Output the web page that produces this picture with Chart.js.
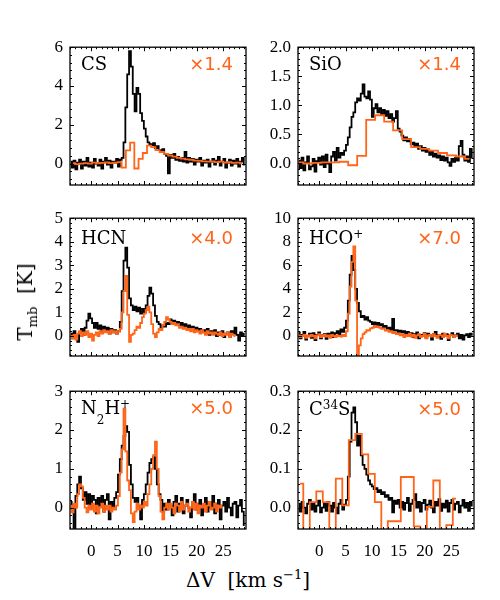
<!DOCTYPE html>
<html>
<head>
<meta charset="utf-8">
<script src="https://cdn.jsdelivr.net/npm/chart.js@4.4.0/dist/chart.umd.min.js"></script>
<style>
  body { margin: 0; background: #fff; }
  #wrap { position: relative; width: 500px; height: 600px; overflow: hidden; background: #fff; }
  #wrap canvas { position: absolute; }
  .title { position: absolute; font-family: "DejaVu Serif", serif; font-size: 20px; color: #000; white-space: nowrap; line-height: 1; }
  .title sup, .title sub { font-size: 13px; }
  #xtitle { left: 248px; top: 579px; transform: translate(-50%, -50%); }
  #ytitle { left: 27px; top: 302px; transform: translate(-50%, -50%) rotate(-90deg); }
</style>
</head>
<body>
<div id="wrap">
  <canvas id="p0" width="239" height="190" style="left:15px;top:30px"></canvas>
  <canvas id="p1" width="239" height="190" style="left:243px;top:30px"></canvas>
  <canvas id="p2" width="239" height="190" style="left:15px;top:201px"></canvas>
  <canvas id="p3" width="239" height="190" style="left:243px;top:201px"></canvas>
  <canvas id="p4" width="239" height="190" style="left:15px;top:374px"></canvas>
  <canvas id="p5" width="239" height="190" style="left:243px;top:374px"></canvas>
  <div class="title" id="xtitle">ΔV&nbsp;&nbsp;[km&nbsp;s<sup>−1</sup>]</div>
  <div class="title" id="ytitle">T<sub>mb</sub>&nbsp;&nbsp;[K]</div>
</div>
<script>
const BLACK = '#000000';
const ORANGE = '#ff6418';

// fine spectra: first channel velocity and channel width (km/s)
const V0 = -3.85, DV = 0.35;

// CS
const csBlack = [0.1,-0.2,0.15,-0.3,0.05,0.2,-0.25,0.1,-0.1,0.3,-0.15,0.05,-0.2,0.25,0.0,-0.1,0.2,-0.25,0.1,0.3,-0.05,0.15,-0.2,0.1,0.05,0.25,-0.15,0.2,
  0.3,1.1,2.9,4.6,5.8,5.0,3.6,2.7,3.9,3.6,2.6,2.2,1.8,1.4,1.1,1.0,0.95,1.05,0.8,0.9,0.7,0.6,0.75,
  0.5,0.4,-0.5,0.45,0.3,0.5,0.2,0.35,0.15,0.3,0.1,0.6,0.05,0.3,0.1,0.25,-0.05,0.2,0.1,0.3,-0.1,0.15,0.05,0.2,-0.15,0.1,0.25,-0.05,0.15,0.35,-0.1,0.1,0.25,-0.2,0.05,0.2,-0.1,0.15,0.0,0.25,-0.15,0.1,0.3,-0.05];
const csOrange = [0.02,-0.02,0.0,0.03,0.0,0.05,0.02,0.04,0.06,0.03,0.05,0.08,-0.2,0.68,1.08,-0.25,0.25,0.55,0.93,0.85,
  0.7,0.6,0.5,0.42,0.36,0.3,0.26,0.22,0.2,0.16,0.14,0.12,0.1,0.12,0.08,0.1,0.06,0.08,0.04,0.05,0.02];
const csOrangeV0 = -3.43, csOrangeDV = 0.8;

// SiO
const sioBlack = [0.05,-0.08,0.1,-0.12,0.02,0.12,-0.1,-0.05,0.08,-0.14,0.04,0.1,
  -0.02,0.12,-0.06,0.15,0.0,-0.15,0.12,0.2,0.05,0.27,0.1,0.18,0.15,0.22,0.32,0.45,0.62,0.8,0.88,
  1.05,1.12,1.08,1.2,1.36,1.15,1.12,1.24,1.1,0.8,0.95,1.02,0.88,0.95,0.85,0.92,0.82,0.9,0.78,0.85,
  0.72,0.78,0.9,0.6,0.55,0.48,0.4,0.45,0.38,0.42,0.33,0.36,0.3,0.34,0.25,0.3,0.22,0.27,0.2,0.24,
  0.15,0.2,0.12,0.17,0.1,0.14,0.06,0.12,0.05,0.1,0.02,-0.04,0.08,0.03,0.1,0.05,0.3,0.39,0.15,0.05,0.12,0.03,0.25,0.1];
const sioOrange = [0.02,0.0,0.01,0.02,0.02,0.03,-0.03,0.13,0.75,0.83,0.72,0.57,0.42,0.28,0.25,0.22,0.18,0.14,0.12,0.08];
const sioOrangeV0 = -3.85, sioOrangeDV = 1.7;

// HCN
const hcnBlack = [0.1,-0.1,0.2,0.0,-0.25,0.15,0.3,0.05,0.35,0.65,
  0.95,0.75,0.55,0.35,0.55,0.3,0.45,0.2,0.4,0.25,
  0.35,0.1,0.3,0.15,0.25,0.1,0.2,0.6,1.9,3.2,
  3.75,2.9,1.6,1.3,1.1,1.25,1.05,1.2,0.95,1.15,
  1.0,1.3,1.7,2.05,1.8,1.3,0.85,0.6,0.5,0.35,
  0.45,0.4,0.55,0.5,0.7,0.6,0.65,0.55,0.6,0.45,
  0.55,0.4,0.5,0.35,0.45,0.3,0.4,0.25,0.35,0.2,
  0.3,0.15,0.25,0.1,0.3,0.05,0.2,0.1,0.25,0.0,
  0.15,0.05,0.2,-0.05,0.1,0.15,-0.05,0.2,0.1,0.35,
  0.05,-0.2,0.15,0.0,0.1];
const hcnOrange = [0.0,-0.1,0.05,-0.15,0.1,0.2,0.0,0.15,0.05,0.2,
  -0.05,0.1,-0.2,0.05,0.15,0.0,0.2,0.1,0.25,0.15,
  0.2,0.1,0.25,0.15,0.2,0.1,0.2,0.3,1.0,1.9,
  2.55,0.9,-0.25,0.05,0.1,0.25,0.4,0.35,0.55,0.8,
  0.95,1.1,1.25,1.0,0.5,0.1,-0.05,0.15,0.3,0.25,
  0.45,0.6,0.8,0.7,0.6,0.5,0.55,0.45,0.5,0.35,
  0.4,0.3,0.35,0.25,0.3,0.2,0.3,0.15,0.25,0.2,
  0.1,0.25,0.15,0.05,0.2,0.1,0.15,0.05,0.15,0.1,
  0.05,0.15,0.0,0.1,0.05,0.15,-0.05,0.1,0.05,0.0];

// HCO+
const hcopBlack = [0.3,-0.2,0.1,0.35,-0.3,0.0,0.2,-0.15,0.25,-0.35,0.1,0.3,-0.2,0.05,0.15,-0.25,0.2,0.0,0.3,-0.1,0.25,0.4,0.1,0.55,0.35,
  0.7,1.3,3.0,5.2,6.8,5.6,4.0,2.8,2.1,1.6,1.7,1.4,1.6,1.3,1.2,1.0,1.15,0.95,1.1,0.9,1.0,0.75,0.85,0.6,0.7,0.5,1.45,0.45,0.5,0.35,0.45,0.3,0.4,0.2,0.35,0.1,
  0.25,-0.1,0.15,0.3,-0.2,0.1,0.0,0.25,-0.15,0.2,0.05,-0.3,0.15,0.35,-0.05,0.1,-0.25,0.2,0.0,0.15,-0.35,0.1,0.25,-0.1,0.05,0.2,-0.2,0.1,-0.3,0.05,0.15,-0.1,0.2,0.1];
const hcopOrange = [0.05,-0.1,0.0,0.1,-0.15,0.05,-0.05,0.1,0.0,-0.2,0.05,0.15,-0.1,0.0,0.1,-0.05,0.05,-0.15,0.1,0.0,-0.1,0.05,0.0,-0.05,0.1,
  0.0,0.4,1.9,4.2,6.3,7.6,3.0,-1.9,-0.8,-0.2,0.15,0.3,0.5,0.45,0.65,0.7,0.85,0.75,0.8,0.7,0.6,0.65,0.45,0.5,0.35,0.4,0.25,0.3,0.15,0.2,
  0.05,0.15,-0.1,0.1,0.0,0.2,-0.05,0.1,-0.15,0.05,0.15,-0.1,0.0,0.2,-0.2,0.05,0.1,-0.05,0.15,0.0,-0.15,0.1,0.05,-0.1,0.2,0.0,-0.2,0.1,0.05,-0.1,0.0,0.05];

// N2H+
const n2hpBlack = [0.15,0.05,-0.7,0.3,0.6,0.8,0.5,0.2,0.4,0.1,
  0.35,0.0,0.3,0.2,-0.15,0.25,0.05,0.3,-0.1,0.2,
  0.35,-0.3,0.15,0.0,0.25,0.4,0.85,1.25,1.6,1.85,
  2.1,1.95,1.1,0.6,0.25,0.15,0.25,0.05,-0.3,0.2,
  0.35,0.6,0.9,1.15,1.25,1.3,1.0,0.6,0.35,0.2,
  -0.1,0.1,-0.05,
  0.2,0.05,-0.2,0.15,0.3,-0.1,0.1,0.25,-0.15,0.05,0.2,0.0,-0.25,0.15,0.35,-0.05,0.1,0.2,-0.2,0.05,0.25,-0.1,0.15,0.0,0.3,-0.15,0.1,0.2,-0.3,0.05,0.15,-0.1,0.25,0.0,-0.2,0.1,0.15,-0.25,0.05,0.2,-0.1,-0.45];
const n2hpOrange = [0.05,-0.12,0.1,0.0,0.35,0.6,0.55,0.25,0.0,-0.12,
  0.05,-0.05,0.1,-0.1,0.05,-0.15,0.0,0.1,-0.1,0.05,
  -0.05,0.05,-0.1,0.0,-0.05,0.05,0.3,0.9,1.5,2.55,
  1.45,0.7,0.45,-0.15,-0.37,-0.1,0.1,-0.05,0.05,0.0,
  0.15,0.05,0.35,0.6,1.0,1.35,1.7,1.0,0.3,-0.1,
  -0.3,0.0,0.1,
  -0.05,0.1,0.0,-0.15,0.1,0.05,-0.1,0.15,-0.05,0.05,0.1,-0.1,0.0,0.15,-0.05,0.1,-0.15,0.05,0.0,0.1,-0.1,0.05,0.15,-0.05,0.0,0.1,-0.1,0.05,0.0,0.05];

// C34S
const c34sBlack = [0.01,-0.01,0.015,0.0,-0.015,0.01,0.02,-0.005,0.012,-0.01,0.005,0.018,-0.012,0.0,0.01,-0.008,0.015,0.005,-0.01,0.012,0.0,-0.015,0.01,0.02,-0.005,
  0.008,0.02,0.08,0.17,0.245,0.258,0.22,0.16,0.185,0.135,0.11,0.1,0.085,0.07,0.06,0.055,0.048,0.05,0.04,0.045,0.035,0.04,0.028,0.032,0.02,0.025,-0.012,0.018,
  0.01,0.02,0.0,0.015,-0.005,0.012,0.025,-0.008,0.01,0.02,0.035,0.0,0.015,-0.01,0.012,0.02,-0.005,0.008,0.018,0.0,-0.012,0.015,0.005,0.022,-0.008,0.01,0.0,0.018,-0.01,0.012,0.02,-0.005,0.01,0.015,-0.012,0.005,0.02,0.0,0.012,-0.008,0.015,0.005];
const c34sOrange = [0.062,-0.08,0.014,0.042,0.014,-0.08,0.075,0.006,0.174,0.19,0.137,0.087,0.014,-0.08,-0.035,-0.035,0.079,0.079,-0.048,-0.08,0.002,0.07,-0.08,-0.045,0.023];
const c34sOrangeV0 = -3.615, c34sOrangeDV = 1.23;

// x axis
const X_MIN = -4, X_MAX = 29.3, X_STEP = 5;

function spectrum(values, v0, dv) {
  return values.map((t, i) => ({ x: v0 + i * dv, y: t }));
}

// box, inward ticks on all four sides, molecule name and scale factor
const panelBox = {
  id: 'panelBox',
  afterDraw(chart, args, o) {
    const { ctx, chartArea: a, scales: { x, y } } = chart;
    ctx.save();
    ctx.strokeStyle = '#000';
    ctx.lineWidth = 1.3;
    ctx.strokeRect(a.left, a.top, a.width, a.height);

    ctx.lineWidth = 1;
    ctx.beginPath();
    const xt = (step, len) => {
      for (let k = Math.ceil(X_MIN / step); k * step <= X_MAX; k++) {
        const px = Math.round(x.getPixelForValue(k * step)) + 0.5;
        ctx.moveTo(px, a.bottom); ctx.lineTo(px, a.bottom - len);
        ctx.moveTo(px, a.top); ctx.lineTo(px, a.top + len);
      }
    };
    const yt = (step, len) => {
      for (let k = Math.ceil(o.yMin / step - 1e-6); k * step <= o.yMax + 1e-9; k++) {
        const py = Math.round(y.getPixelForValue(k * step)) + 0.5;
        ctx.moveTo(a.left, py); ctx.lineTo(a.left + len, py);
        ctx.moveTo(a.right, py); ctx.lineTo(a.right - len, py);
      }
    };
    xt(X_STEP, 4); xt(X_STEP / 5, 2);
    yt(o.yStep, 4); yt(o.yStep / 5, 2);
    ctx.stroke();

    // name with sub/superscripts
    ctx.fillStyle = '#000';
    ctx.textBaseline = 'alphabetic';
    ctx.textAlign = 'left';
    let cx = a.left + 11;
    const base = a.top + o.nameY;
    for (const [t, k] of o.name) {
      ctx.font = k === 0 ? '18px "DejaVu Serif"' : '12px "DejaVu Serif"';
      const dy = k === 0 ? 0 : (k > 0 ? -6 : 10);
      ctx.fillText(t, cx, base + dy);
      cx += ctx.measureText(t).width;
    }

    ctx.fillStyle = ORANGE;
    ctx.textAlign = 'right';
    ctx.font = '18px "DejaVu Sans"';
    ctx.fillText(o.factor, a.right - 13, base);
    ctx.restore();
  }
};
Chart.register(panelBox);

const panels = [
  { id: 'p0', name: [['CS', 0]], factor: '×1.4', nameY: 23, yMin: -1.1, yMax: 6, yStep: 2, dec: 0, bottom: false,
    black: csBlack, orange: csOrange, ov0: csOrangeV0, odv: csOrangeDV },
  { id: 'p1', name: [['SiO', 0]], factor: '×1.4', nameY: 23, yMin: -0.37, yMax: 2.0, yStep: 0.5, dec: 1, bottom: false,
    black: sioBlack, orange: sioOrange, ov0: sioOrangeV0, odv: sioOrangeDV },
  { id: 'p2', name: [['HCN', 0]], factor: '×4.0', nameY: 25.5, yMin: -0.85, yMax: 5, yStep: 1, dec: 0, bottom: false,
    black: hcnBlack, orange: hcnOrange, ov0: V0, odv: DV },
  { id: 'p3', name: [['HCO', 0], ['+', 1]], factor: '×7.0', nameY: 25.5, yMin: -1.7, yMax: 10, yStep: 2, dec: 0, bottom: false,
    black: hcopBlack, orange: hcopOrange, ov0: V0, odv: DV },
  { id: 'p4', name: [['N', 0], ['2', -1], ['H', 0], ['+', 1]], factor: '×5.0', nameY: 23, yMin: -0.55, yMax: 3, yStep: 1, dec: 0, bottom: true,
    black: n2hpBlack, orange: n2hpOrange, ov0: V0, odv: DV },
  { id: 'p5', name: [['C', 0], ['34', 1], ['S', 0]], factor: '×5.0', nameY: 24, yMin: -0.055, yMax: 0.3, yStep: 0.1, dec: 1, bottom: true,
    black: c34sBlack, orange: c34sOrange, ov0: c34sOrangeV0, odv: c34sOrangeDV }
];

const tickFont = { family: 'Liberation Serif', size: 17 };

panels.forEach(p => {
  new Chart(document.getElementById(p.id), {
    type: 'line',
    data: {
      datasets: [
        { data: spectrum(p.orange, p.ov0, p.odv), borderColor: ORANGE, borderWidth: 1.8, stepped: 'middle', pointRadius: 0, fill: false },
        { data: spectrum(p.black, V0, DV), borderColor: BLACK, borderWidth: 1.8, stepped: 'middle', pointRadius: 0, fill: false }
      ]
    },
    options: {
      responsive: false,
      animation: false,
      events: [],
      layout: { padding: { top: 12, right: 8, left: 0, bottom: 0 } },
      plugins: {
        legend: { display: false },
        tooltip: { enabled: false },
        panelBox: { name: p.name, factor: p.factor, nameY: p.nameY, yMin: p.yMin, yMax: p.yMax, yStep: p.yStep }
      },
      scales: {
        x: {
          type: 'linear', min: X_MIN, max: X_MAX,
          afterFit: s => { s.height = 35; },
          grid: { display: false, drawTicks: false },
          border: { display: false },
          ticks: { display: p.bottom, stepSize: X_STEP, includeBounds: false, autoSkip: false, maxRotation: 0,
                   padding: 12, color: '#000', font: tickFont }
        },
        y: {
          min: p.yMin, max: p.yMax,
          afterFit: s => { s.width = 55; },
          grid: { display: false, drawTicks: false },
          border: { display: false },
          ticks: { stepSize: p.yStep, includeBounds: false, autoSkip: false, padding: 7, color: '#000', font: tickFont,
                   callback: v => Number(v).toFixed(p.dec) }
        }
      }
    }
  });
});
</script>
</body>
</html>
